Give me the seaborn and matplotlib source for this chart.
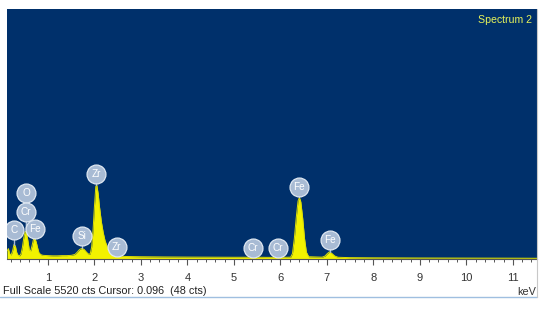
import matplotlib
matplotlib.use("Agg")
import matplotlib.pyplot as plt
import seaborn as sns
import pandas as pd
from matplotlib.lines import Line2D

# ---- data ----
energy_kev = [0.12, 0.15, 0.18, 0.21, 0.24, 0.27, 0.30, 0.33, 0.36, 0.39, 0.42,
              0.45, 0.48, 0.51, 0.54, 0.57, 0.60, 0.63, 0.66, 0.69, 0.72, 0.75,
              0.78, 0.81, 0.86, 0.90, 1.00, 1.10, 1.20, 1.30, 1.40, 1.50, 1.58,
              1.63, 1.68, 1.73, 1.78, 1.83, 1.87, 1.91, 1.94, 1.97, 2.00, 2.03,
              2.05, 2.08, 2.11, 2.15, 2.19, 2.23, 2.28, 2.33, 2.38, 2.44, 2.49,
              2.54, 2.70, 3.00, 3.50, 4.00, 4.50, 5.00, 5.32, 5.37, 5.41, 5.46,
              5.70, 5.89, 5.95, 6.01, 6.22, 6.26, 6.30, 6.34, 6.38, 6.41, 6.44,
              6.48, 6.52, 6.56, 6.61, 6.90, 6.96, 7.01, 7.06, 7.11, 7.17, 7.24,
              7.50, 8.00, 9.00, 10.00, 11.00, 11.52]
counts = [170, 230, 110, 90, 180, 320, 290, 140, 80, 70, 110,
          250, 460, 610, 590, 400, 200, 180, 300, 440, 460, 370,
          240, 130, 90, 80, 75, 70, 70, 75, 75, 80, 100,
          150, 210, 235, 210, 150, 110, 110, 260, 620, 1150, 1600,
          1640, 1450, 1150, 820, 580, 400, 260, 160, 100, 80, 85,
          60, 55, 50, 45, 42, 40, 38, 38, 55, 65, 40,
          36, 36, 52, 36, 40, 120, 450, 900, 1280, 1360, 1260,
          900, 450, 150, 50, 40, 65, 120, 160, 120, 65, 38,
          30, 26, 22, 20, 18, 16]

label_elements = ["C", "O", "Cr", "Fe", "Si", "Zr", "Zr", "Cr", "Cr", "Fe", "Fe"]
label_energy = [0.27, 0.53, 0.53, 0.72, 1.74, 2.04, 2.48, 5.41, 5.95, 6.40, 7.06]
label_height = [640, 1460, 1040, 660, 510, 1880, 270, 245, 245, 1600, 420]
peak_height = [320, 610, 610, 460, 235, 1640, 85, 65, 52, 1360, 160]

full_scale = 5520
x_min, x_max = 0.12, 11.52
tick_values = list(range(1, 12))

# ---- styling ----
sns.set_theme(style="white")
plt.rcParams["font.family"] = ["Liberation Sans", "DejaVu Sans"]

bg_color = "#00306b"
yellow = "#f2f200"
bubble = "#a8bbd4"

fig = plt.figure(figsize=(5.5, 3.13), dpi=100)
fig.patch.set_facecolor("white")
ax = fig.add_axes([7 / 550, 1 - 259 / 313, 530 / 550, 250 / 313])
ax.set_facecolor(bg_color)

df = pd.DataFrame({"energy": energy_kev, "counts": counts})
ax.fill_between(df["energy"], 0, df["counts"], color=yellow, linewidth=0, zorder=2)
sns.lineplot(data=df, x="energy", y="counts", ax=ax, color="#dede00",
             linewidth=0.7, zorder=3)

# element labels
for el, e, lh, ph in zip(label_elements, label_energy, label_height, peak_height):
    ax.plot([e, e], [ph, lh], color=bubble, linewidth=1.0, zorder=4)
    ax.scatter([e], [lh], s=185, color=bubble, edgecolor="#dfe7f1",
               linewidth=0.9, zorder=5)
    ax.text(e, lh, el, ha="center", va="center", color="white",
            fontsize=7.2, zorder=6)

ax.set_xlim(x_min, x_max)
ax.set_ylim(0, full_scale)
ax.set_xticks(tick_values)
ax.set_xticklabels([str(t) for t in tick_values])
ax.set_xticks([t / 5 for t in range(1, 58)], minor=True)
ax.set_yticks([])
ax.set_xlabel("")
ax.set_ylabel("")
ax.tick_params(axis="x", which="major", direction="out", length=4, width=0.8,
               color="#555555", labelsize=8, labelcolor="#333333", pad=6,
               bottom=True)
ax.tick_params(axis="x", which="minor", direction="out", length=2.5, width=0.7,
               color="#555555", bottom=True)
for side in ["top", "left", "right"]:
    ax.spines[side].set_visible(False)
ax.spines["bottom"].set_color("#555555")
ax.spines["bottom"].set_linewidth(0.8)

ax.text(0.99, 0.975, "Spectrum 2", transform=ax.transAxes, ha="right", va="top",
        color="#e6f25a", fontsize=7.6)

fig.text(3 / 550, 1 - 291 / 313, "Full Scale 5520 cts Cursor: 0.096  (48 cts)",
         ha="left", va="center", fontsize=7.8, color="#222222")
fig.text(536 / 550, 1 - 292 / 313, "keV", ha="right", va="center",
         fontsize=7.8, color="#333333")

# frame lines below the plot
fig.add_artist(Line2D([0, 537 / 550], [1 - 297 / 313, 1 - 297 / 313],
                      color="#9fbfe0", linewidth=1.0))
fig.add_artist(Line2D([537 / 550, 537 / 550], [1 - 297 / 313, 1 - 9 / 313],
                      color="#c8c8c8", linewidth=0.8))

fig.savefig("out.png", dpi=100, facecolor="white")
